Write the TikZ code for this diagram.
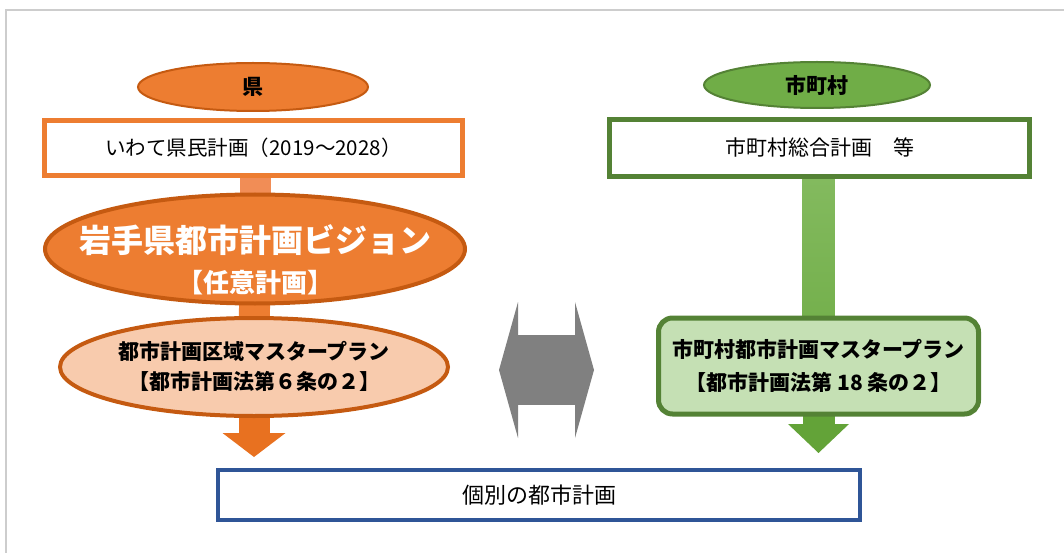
\documentclass[tikz,border=0pt]{standalone}
\usepackage{fontspec}
\setmainfont{Noto Sans CJK JP}
\usepackage{tikz}
\usetikzlibrary{shapes.geometric,arrows.meta,calc,backgrounds}
\definecolor{kenorange}{RGB}{237,125,49}
\definecolor{kenedge}{RGB}{197,90,17}
\definecolor{kenlight}{RGB}{248,203,173}
\definecolor{stemorange}{RGB}{241,141,86}
\definecolor{arroworange}{RGB}{232,113,32}
\definecolor{muragreen}{RGB}{112,173,71}
\definecolor{muraedge}{RGB}{84,130,53}
\definecolor{muralight}{RGB}{197,224,180}
\definecolor{stemgreen}{RGB}{134,188,98}
\definecolor{arrowgreen}{RGB}{99,163,56}
\definecolor{planblue}{RGB}{47,85,151}
\definecolor{linkgray}{RGB}{128,128,128}
\definecolor{framegray}{RGB}{205,205,205}

% text of an oval, kept out of the size of the ellipse
\newcommand{\ovaltext}[2][0pt]{\raisebox{#1}[0pt][0pt]{\makebox[0pt]{\begin{tabular}{@{}c@{}}#2\end{tabular}}}}

\begin{document}
\begin{tikzpicture}[x=1pt, y=-1pt,
    oval/.style={ellipse, inner sep=0pt},
    planbox/.style={rectangle, line width=5pt, fill=white, inner sep=0pt},
    stem/.style={line width=31pt},
    headtip/.style={-{Triangle[width=#1, length=24pt, line width=0pt]}}]

  \useasboundingbox (0,0) rectangle (1064,553);

  % prefecture side
  \node[oval, fill=kenorange, draw=kenedge, line width=2pt, minimum width=230pt, minimum height=48pt,
        font=\fontsize{21}{24}\selectfont\bfseries] (ken) at (253,87) {県};
  \node[planbox, draw=kenorange, minimum width=418pt, minimum height=55pt,
        font=\fontsize{20.5}{24}\selectfont] (plan) at (253.5,148) {いわて県民計画（2019～2028）};
  \node[oval, fill=kenorange, draw=kenedge, line width=4pt, minimum width=420pt, minimum height=109pt,
        text=white, font=\fontsize{26}{40}\selectfont\bfseries] (vision) at (255,249)
        {\ovaltext[-22pt]{{\fontsize{32}{40}\selectfont 岩手県都市計画ビジョン}\\【任意計画】}};
  \node[oval, fill=kenlight, draw=kenedge, line width=4pt, minimum width=388pt, minimum height=98pt,
        font=\fontsize{21}{30}\selectfont\bfseries] (area) at (254,367)
        {\ovaltext[-7pt]{都市計画区域マスタープラン\\【都市計画法第６条の２】}};

  % municipal side
  \node[oval, fill=muragreen, draw=muraedge, line width=2pt, minimum width=226pt, minimum height=46pt,
        font=\fontsize{21}{24}\selectfont\bfseries] (mura) at (817,85) {市町村};
  \node[planbox, draw=muraedge, minimum width=420pt, minimum height=57pt,
        font=\fontsize{21}{24}\selectfont] (towns) at (819.5,148) {市町村総合計画　等};
  \node[rectangle, rounded corners=14pt, fill=muralight, draw=muraedge, line width=5pt,
        minimum width=320pt, minimum height=96pt, align=center,
        font=\fontsize{21}{33}\selectfont\bfseries] (mplan) at (818.5,366)
        {市町村都市計画マスタープラン\\【都市計画法第 18 条の２】};

  % common result
  \node[rectangle, draw=planblue, line width=4pt, fill=white, minimum width=642pt, minimum height=50pt,
        font=\fontsize{22}{26}\selectfont] (each) at (539,495) {個別の都市計画};

  % two-way link
  \coordinate (gl) at (499,370);
  \coordinate (gr) at (594,370);
  \draw[linkgray, line width=70pt,
        {Triangle[width=136pt, length=19pt, line width=0pt]}-{Triangle[width=136pt, length=19pt, line width=0pt]}]
        (gl) -- (gr);

  \begin{scope}[on background layer]
    \draw[framegray, line width=1.2pt] (6,553) -- (6,10) -- (1064,10);
    \draw[stemorange, stem] (vision.center |- plan.center) -- (vision.center);
    \draw[kenorange, stem] (vision.center) -- (area.center);
    \draw[arroworange, stem, headtip=63pt] (area.center) -- ($(area.center |- each.north)+(0,-11)$);
    \shade[top color=stemgreen, bottom color=muragreen]
      ($(mplan.center |- towns.center)+(-16,0)$) rectangle ($(mplan.center)+(16,0)$);
    \draw[arrowgreen, line width=32pt, -{Triangle[width=61pt, length=29pt, line width=0pt]}]
      (mplan.center) -- ($(mplan.center |- each.north)+(0,-15)$);
  \end{scope}
\end{tikzpicture}
\end{document}
